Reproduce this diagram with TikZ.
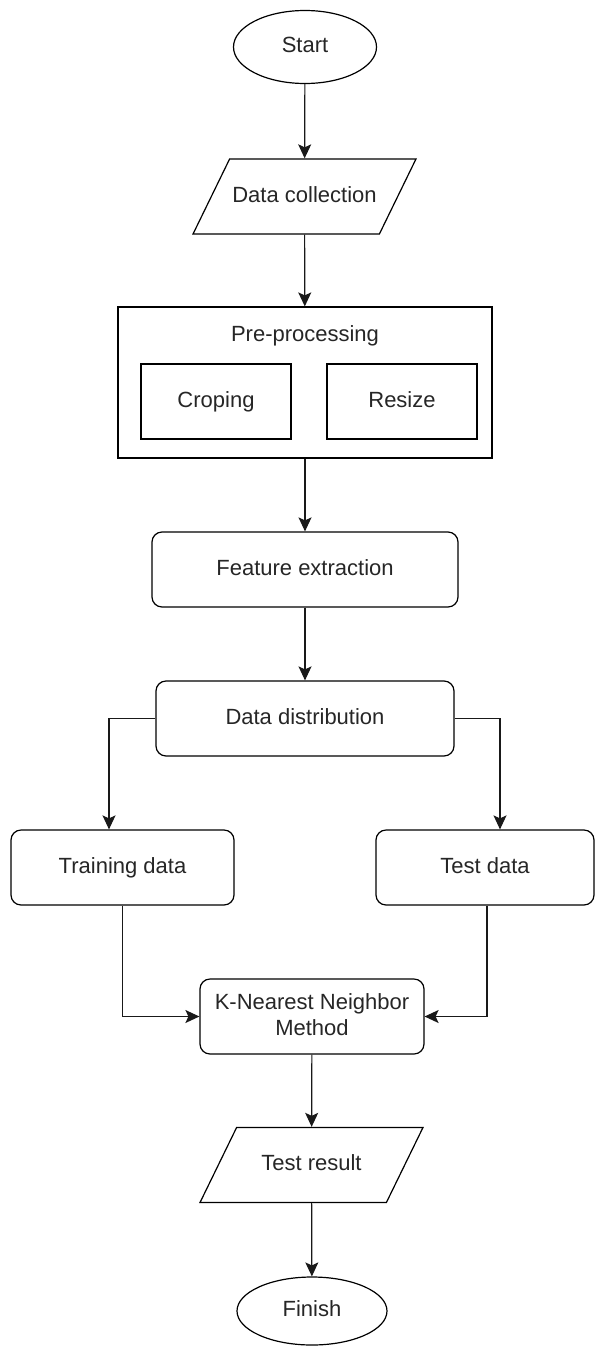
\documentclass[tikz,border=0pt]{standalone}
\usepackage{fontspec}
\setmainfont{Liberation Sans}
\usetikzlibrary{shapes.geometric, arrows.meta, positioning, calc}

\begin{document}
\begin{tikzpicture}[
    x=1pt, y=-1pt,
    every node/.style={font=\fontsize{22}{26}\selectfont, text=black!85, execute at begin node={\vphantom{Tg}}},
    terminal/.style={ellipse, draw, line width=1.2pt, inner sep=0pt},
    io/.style={trapezium, trapezium left angle=64, trapezium right angle=116, trapezium stretches body, draw, line width=1.2pt, minimum width=223, inner xsep=0pt, inner ysep=27.3pt},
    process/.style={rectangle, draw, line width=1.2pt, minimum width=150, minimum height=75, inner sep=0pt, align=center},
    stepbox/.style={rectangle, rounded corners=10pt, draw, line width=1.2pt, minimum height=75, inner sep=0pt, align=center},
    arrow/.style={-{Stealth[length=14pt, width=13pt, inset=3pt]}, line width=1.2pt, draw=black!90}
]
    \useasboundingbox (0,0) rectangle (595,1347);

    % Start and input
    \node [terminal, minimum width=143, minimum height=73] (start) at (305, 47) {Start};
    \node [io] (collect) at (304.5, 196.5) {Data collection};

    % Pre-processing group
    \node [process, minimum width=374, minimum height=151] (prep) at (305, 382.5) {};
    \node (preptitle) at (305, 336) {Pre-processing};
    \node [process] (crop) at (216, 401.5) {Croping};
    \node [process] (resize) at (402, 401.5) {Resize};

    % Main steps
    \node [stepbox, minimum width=306] (feature) at (305, 569.5) {Feature extraction};
    \node [stepbox, minimum width=298] (distrib) at (305, 718.5) {Data distribution};
    \node [stepbox, minimum width=223] (train) at (122.5, 867.5) {Training data};
    \node [stepbox, minimum width=218] (test) at (485, 867.5) {Test data};
    \node [stepbox, minimum width=224] (knn) at (312, 1016.5) {K-Nearest Neighbor\\Method};

    % Output and end
    \node [io] (result) at (311.5, 1165) {Test result};
    \node [terminal, minimum width=150, minimum height=68] (finish) at (312, 1311) {Finish};

    % Connections
    \draw [arrow] (start) -- (collect);
    \draw [arrow] (collect) -- (prep);
    \draw [arrow] (prep) -- (feature);
    \draw [arrow] (feature) -- (distrib);
    \draw [arrow] (distrib.west) -| ([xshift=-13.5]train.north);
    \draw [arrow] (distrib.east) -| ([xshift=15]test.north);
    \draw [arrow] (train.south) |- (knn.west);
    \draw [arrow] ([xshift=2]test.south) |- (knn.east);
    \draw [arrow] (knn) -- (result);
    \draw [arrow] (result) -- (finish);
\end{tikzpicture}
\end{document}
